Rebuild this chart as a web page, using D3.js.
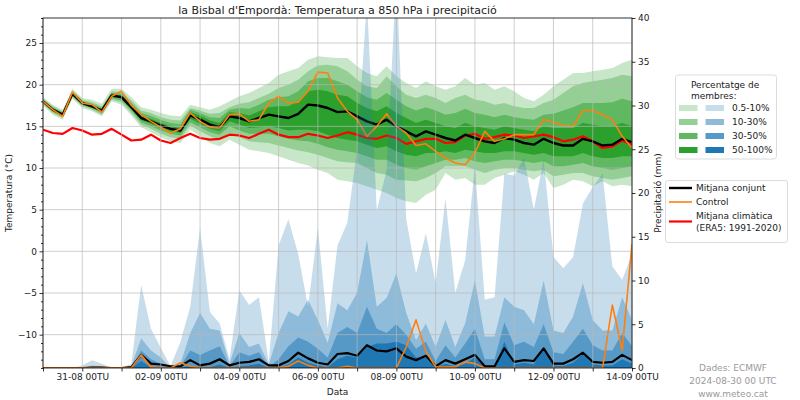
<!DOCTYPE html>
<html><head><meta charset="utf-8">
<script src="https://cdn.jsdelivr.net/npm/d3@7"></script>
<style>
body{margin:0;background:#fff;}
svg{font-family:"DejaVu Sans",sans-serif;}
</style></head><body>
<svg id="c" width="800" height="400"></svg>
<script>
// ---------- DATA ----------
const hours = [0,6,12,18,24,30,36,42,48,54,60,66,72,78,84,90,96,102,108,114,120,126,132,138,144,150,156,162,168,174,180,186,192,198,204,210,216,222,228,234,240,246,252,258,264,270,276,282,288,294,300,306,312,318,324,330,336,342,348,354,360];
const dayTicks = [0,24,48,72,96,120,144,168,192,216,240,264,288,312,336,360];
const labelTicks = [24,72,120,168,216,264,312,360];
const labelTexts = ["31-08 00TU","02-09 00TU","04-09 00TU","06-09 00TU","08-09 00TU","10-09 00TU","12-09 00TU","14-09 00TU"];
const tempTicks = [-10,-5,0,5,10,15,20,25];
const precTicks = [0,5,10,15,20,25,30,35,40];

const tMean = [18.0,17.0,16.4,18.9,17.8,17.4,16.9,18.7,18.5,17.3,16.0,15.6,15.1,14.7,14.5,16.3,15.8,15.2,14.9,16.2,16.0,15.6,16.0,16.4,16.2,16.0,16.5,17.6,17.5,17.2,16.7,16.8,16.2,15.6,15.2,15.8,15.0,14.4,13.8,14.4,14.0,13.6,13.3,14.0,13.6,13.2,13.0,13.6,13.4,13.0,12.8,13.5,13.0,12.7,12.7,13.5,13.2,12.7,12.8,13.5,13.1];
const tCtrl = [18.0,17.0,16.2,19.1,17.8,17.6,16.7,18.6,19.2,17.5,16.4,15.6,14.9,14.2,14.7,16.6,15.6,14.9,14.8,16.4,16.5,15.6,15.8,17.8,18.6,17.8,17.9,19.2,21.5,21.4,18.4,16.8,15.8,13.8,15.0,16.5,15.0,14.2,12.7,12.9,12.0,11.2,10.6,10.4,11.8,14.4,13.2,13.5,14.0,14.0,14.0,15.8,15.5,15.1,15.0,16.9,16.9,16.4,15.8,13.8,12.4];
const tClim = [14.6,14.2,14.1,14.8,14.5,14.0,14.1,14.7,14.0,13.3,13.4,14.0,13.3,13.0,13.6,14.1,13.6,13.4,13.5,14.0,13.9,13.6,14.1,14.6,14.0,13.7,13.7,14.1,13.9,13.6,13.9,14.3,14.0,13.6,13.5,13.9,13.6,12.9,13.2,13.5,13.5,13.0,13.1,13.9,14.1,13.5,13.7,14.0,13.9,13.6,13.8,14.0,13.7,13.2,13.4,13.8,13.2,12.4,12.6,13.3,12.8];

// temperature bands (0.5-10%, 10-30%, 30-50%, 50-100%) upper / lower
const tU1 = [18.5,17.6,17.0,19.5,18.4,18.2,17.7,19.5,19.5,18.5,17.3,17.0,16.6,16.3,16.2,17.6,17.3,17.0,17.4,18.0,18.6,19.0,19.6,20.2,21.2,21.6,22.0,23.0,23.4,23.3,23.2,23.2,22.2,21.4,21.0,22.2,21.0,20.2,19.6,20.4,19.8,19.4,19.8,20.8,20.0,20.2,19.4,19.8,19.2,18.4,18.0,18.8,19.8,20.6,21.4,21.4,21.6,21.8,22.0,22.6,23.0];
const tU2 = [18.35,17.4,16.8,19.3,18.2,17.9,17.4,19.2,19.1,18.1,16.9,16.6,16.1,15.8,15.7,17.2,16.9,16.5,16.6,17.3,17.7,17.9,18.4,18.9,19.6,20.0,20.6,21.6,22.3,22.4,22.2,21.6,20.6,19.8,19.6,21.0,19.8,18.8,18.4,18.8,18.4,17.8,18.4,18.8,18.2,18.0,17.6,17.8,17.4,17.2,17.2,17.8,18.2,19.0,19.8,20.2,20.4,20.6,20.8,21.2,21.0];
const tU3 = [18.2,17.25,16.65,19.15,18.05,17.7,17.2,19.0,18.9,17.8,16.6,16.25,15.75,15.4,15.25,17.0,16.6,16.1,16.0,17.0,17.2,17.1,17.6,18.2,18.5,18.6,19.2,20.4,20.8,20.8,20.4,20.0,19.2,18.5,18.2,19.0,18.2,17.4,16.9,17.3,16.9,16.4,16.6,17.1,16.6,16.4,16.1,16.4,16.1,15.9,15.8,16.4,16.5,16.9,17.3,17.8,17.8,17.8,17.9,18.3,18.0];
const tU4 = [18.1,17.1,16.5,19.0,17.9,17.5,17.05,18.85,18.7,17.5,16.25,15.9,15.4,15.0,14.8,16.7,16.3,15.7,15.4,16.7,16.6,16.3,16.8,17.3,17.4,17.4,18.0,19.2,19.4,19.2,18.8,18.6,17.8,17.2,16.8,17.4,16.6,16.0,15.4,15.8,15.4,15.0,14.8,15.4,15.0,14.8,14.6,15.0,14.8,14.6,14.4,15.0,14.8,14.8,14.8,15.4,15.2,15.0,15.0,15.4,15.0];
const tL4 = [17.9,16.9,16.3,18.8,17.7,17.3,16.75,18.55,18.3,17.1,15.75,15.3,14.8,14.4,14.2,15.9,15.3,14.7,14.4,15.6,15.2,14.8,14.9,15.0,14.8,14.5,14.6,14.6,14.4,14.0,13.6,13.4,13.2,12.8,12.4,12.6,12.0,11.6,11.4,11.8,11.8,12.0,11.8,12.2,12.0,11.8,11.8,12.0,12.0,11.8,11.6,11.8,11.4,11.4,11.4,11.8,11.4,11.2,11.2,11.4,11.4];
const tL3 = [17.8,16.75,16.15,18.65,17.55,17.15,16.6,18.4,18.1,16.9,15.5,15.0,14.5,14.1,13.9,15.5,14.9,14.3,14.0,15.0,14.5,14.1,14.1,14.1,13.8,13.5,13.3,13.2,12.9,12.5,12.2,12.0,11.8,11.4,11.0,11.0,10.4,10.0,9.8,10.2,10.6,11.0,11.0,11.2,10.8,10.6,10.8,11.0,11.0,10.8,10.6,10.8,10.2,10.2,10.4,10.6,10.2,10.0,9.8,10.0,10.2];
const tL2 = [17.65,16.6,16.0,18.5,17.4,17.0,16.4,18.2,17.9,16.6,15.2,14.7,14.1,13.7,13.5,15.1,14.4,13.8,13.4,14.2,13.7,13.2,13.1,13.0,12.7,12.4,12.1,11.9,11.6,11.2,10.8,10.7,10.6,10.0,9.4,9.2,8.6,8.5,8.4,8.8,9.4,10.2,10.2,10.2,9.8,9.4,9.8,10.0,10.0,9.8,9.6,9.8,9.0,9.2,9.4,9.4,9.0,8.8,8.6,8.8,9.0];
const tL1 = [17.5,16.4,15.8,18.3,17.2,16.8,16.2,18.0,17.6,16.3,14.9,14.3,13.7,13.2,13.0,14.6,13.8,13.0,12.6,13.4,12.8,12.2,12.0,11.8,11.4,11.0,10.6,10.3,9.8,9.4,8.6,8.4,8.2,7.8,7.4,7.0,6.4,6.0,5.8,6.8,7.4,9.4,8.6,8.8,8.0,8.0,8.8,9.2,9.6,9.2,8.6,9.4,7.6,8.0,8.6,8.4,7.8,8.4,7.8,8.0,7.8];

// precipitation bands (upper limits, from 0)
const pB1 = [0,0,0,0,0.3,0.9,0.5,0,0,0.5,9.5,4.5,2.3,0.2,3.0,7.0,16.0,6.4,5.1,1.0,8.9,7.2,8.1,0.7,14.0,17.0,13.0,7.0,16.0,4.5,14.0,16.6,25.0,42.0,18.0,22.6,45.0,17.0,10.8,15.4,9.7,19.4,8.6,12.3,23.0,7.8,8.1,22.2,22.0,24.0,18.1,23.8,12.7,11.4,12.7,18.8,20.7,22.2,11.6,10.1,13.0];
const pB2 = [0,0,0,0,0,0.3,0.2,0,0,0.2,3.4,2.0,1.2,0,0.5,4.0,6.3,4.5,4.3,0.5,4.0,2.4,2.8,0.4,4.0,6.5,5.9,7.8,5.5,2.9,7.4,6.6,8.6,14.6,7.0,8.0,10.8,6.3,3.2,5.1,2.4,5.5,2.4,5.1,10.0,3.6,3.6,8.1,7.0,6.6,5.0,10.0,4.3,4.0,5.9,9.7,5.5,4.3,4.3,8.1,5.5];
const pB3 = [0,0,0,0,0,0.1,0,0,0,0,2.0,1.0,0.5,0,0.2,2.0,1.5,2.0,2.5,0.2,1.8,1.4,1.8,0.1,1.0,2.5,3.5,3.0,2.2,1.2,4.0,4.7,4.0,7.0,4.5,4.0,5.0,3.8,2.2,3.0,0.8,2.6,1.2,2.8,4.5,1.0,1.0,5.2,2.6,3.0,2.4,5.0,1.8,1.6,3.0,4.5,2.6,2.0,2.0,4.0,2.5];
const pB4 = [0,0,0,0,0,0,0,0,0,0,0.8,0.1,0,0,0,0.3,0,0.1,0.4,0,0.2,0.3,0.5,0,0,0.4,1.2,0.6,0.3,0.1,1.0,1.4,1.2,2.4,2.8,2.8,3.0,2.6,1.2,1.2,0.1,0.5,0.2,0.5,1.2,0.1,0.1,3.0,0.4,0.6,0.4,2.2,0.3,0.2,0.6,1.6,0.4,0.3,0.3,1.0,0.5];
const pMean = [0,0,0,0,0,0.05,0.05,0,0,0.1,1.5,0.5,0.4,0.2,0.2,0.9,0.3,0.5,1.0,0.3,0.6,0.7,1.0,0.3,0.3,0.8,1.75,1.1,0.6,0.4,1.6,1.7,1.4,2.6,2.0,1.9,2.25,1.3,0.9,1.4,0.2,0.9,0.5,1.0,1.5,0.2,0.2,2.25,0.7,0.9,0.8,2.25,0.5,0.5,1.0,1.75,0.7,0.6,0.7,1.5,0.9];
const pCtrl = [0,0,0,0,0,0,0,0,0,0,1.5,0.1,0,0,0.6,0.2,0,0,0,0,0,0,0,0,0,0.2,0.8,0.3,0,0,0,0.2,0,0,0,0,0,2.4,5.5,1.9,0.1,0.1,0.1,0.7,0.5,0,0,0,0,0,0,0,0,0,0,0,0,0,7.2,2.0,14.2];

const bandLabels = ["0.5-10%","10-30%","30-50%","50-100%"];

// ---------- STYLE ----------
const greens = ["#c8e6c8","#95cf95","#60b860","#2ca02c"];
const blue = "#1f77b4";
const blueOp = [0.25,0.333,0.5,1.0];
const blueSw = ["#c7ddec","#8fbbd9","#5799c7","#1f77b4"];

const svg = d3.select('#c');
const X0=43, X1=632, Y0=18, Y1=368;
const x = d3.scaleLinear().domain([0,360]).range([X0,X1]);
const yT = d3.scaleLinear().domain([-14,28]).range([Y1,Y0]);
const yP = d3.scaleLinear().domain([0,40]).range([Y1,Y0]);

svg.append('defs').append('clipPath').attr('id','clip')
  .append('rect').attr('x',X0).attr('y',Y0).attr('width',X1-X0).attr('height',Y1-Y0);

const plot = svg.append('g').attr('clip-path','url(#clip)');
const idx = hours.map((h,i)=>i);

// green bands
const bandsT = [[tL1,tU1],[tL2,tU2],[tL3,tU3],[tL4,tU4]];
bandsT.forEach((b,k)=>{
  const area = d3.area().x(i=>x(hours[i])).y0(i=>yT(b[0][i])).y1(i=>yT(b[1][i]));
  plot.append('path').attr('d',area(idx)).attr('fill',greens[k]).attr('stroke','none');
});

// grid
const grid = svg.append('g');
dayTicks.forEach(h=>grid.append('line').attr('x1',x(h)).attr('x2',x(h)).attr('y1',Y0).attr('y2',Y1)
  .attr('stroke','#b8b8b8').attr('stroke-width',0.9).attr('stroke-opacity',0.75));
tempTicks.forEach(t=>grid.append('line').attr('x1',X0).attr('x2',X1).attr('y1',yT(t)).attr('y2',yT(t))
  .attr('stroke','#b8b8b8').attr('stroke-width',0.9).attr('stroke-opacity',0.75));

// temperature lines
const lineT = arr => d3.line().x(i=>x(hours[i])).y(i=>yT(arr[i]))(idx);
plot.append('path').attr('d',lineT(tClim)).attr('fill','none').attr('stroke','#ff0000').attr('stroke-width',2.2).attr('stroke-linejoin','round');
plot.append('path').attr('d',lineT(tMean)).attr('fill','none').attr('stroke','#000').attr('stroke-width',2.4).attr('stroke-linejoin','round');
plot.append('path').attr('d',lineT(tCtrl)).attr('fill','none').attr('stroke','#ff7f0e').attr('stroke-width',1.6).attr('stroke-linejoin','round');

// precipitation bands
[pB1,pB2,pB3,pB4].forEach((b,k)=>{
  const area = d3.area().x(i=>x(hours[i])).y0(yP(0)).y1(i=>yP(b[i]));
  plot.append('path').attr('d',area(idx)).attr('fill',blue).attr('fill-opacity',blueOp[k]).attr('stroke','none');
});
const lineP = arr => d3.line().x(i=>x(hours[i])).y(i=>yP(arr[i]))(idx);
plot.append('path').attr('d',lineP(pMean)).attr('fill','none').attr('stroke','#000').attr('stroke-width',2.2).attr('stroke-linejoin','round');
plot.append('path').attr('d',lineP(pCtrl)).attr('fill','none').attr('stroke','#ff7f0e').attr('stroke-width',1.6).attr('stroke-linejoin','round');

// frame
svg.append('rect').attr('x',X0).attr('y',Y0).attr('width',X1-X0).attr('height',Y1-Y0)
  .attr('fill','none').attr('stroke','#000').attr('stroke-width',0.8);

const fmt = d => d<0 ? '\u2212'+Math.abs(d) : String(d);
// left axis
svg.append('g').attr('transform',`translate(${X0},0)`)
  .call(d3.axisLeft(yT).tickValues(tempTicks).tickFormat(fmt).tickSize(3.5).tickPadding(2.5).tickSizeOuter(0));
const minorT = d3.range(-14,29,1).filter(v=>v%5!==0);
svg.append('g').attr('transform',`translate(${X0},0)`)
  .call(d3.axisLeft(yT).tickValues(minorT).tickFormat('').tickSize(2).tickSizeOuter(0));
// right axis
svg.append('g').attr('transform',`translate(${X1},0)`)
  .call(d3.axisRight(yP).tickValues(precTicks).tickSize(3.5).tickPadding(2.5).tickSizeOuter(0));
// bottom axis
svg.append('g').attr('transform',`translate(0,${Y1})`)
  .call(d3.axisBottom(x).tickValues(dayTicks).tickFormat('').tickSize(3.5).tickSizeOuter(0));
svg.append('g').attr('transform',`translate(0,${Y1})`)
  .call(d3.axisBottom(x).tickValues(labelTicks).tickFormat((d,i)=>labelTexts[i]).tickSize(0).tickPadding(6).tickSizeOuter(0));
svg.selectAll('.domain').remove();
svg.selectAll('.tick text').attr('font-size',9).attr('fill','#222').attr('font-family','DejaVu Sans');
svg.selectAll('.tick line').attr('stroke','#000').attr('stroke-width',0.8);

// labels
svg.append('text').attr('x',(X0+X1)/2).attr('y',14).attr('text-anchor','middle')
  .attr('font-size',11).attr('fill','#222').text("la Bisbal d'Empordà: Temperatura a 850 hPa i precipitació");
svg.append('text').attr('transform',`translate(12,${(Y0+Y1)/2}) rotate(-90)`).attr('text-anchor','middle')
  .attr('font-size',9).attr('fill','#222').text('Temperatura (°C)');
svg.append('text').attr('transform',`translate(661,${(Y0+Y1)/2}) rotate(-90)`).attr('text-anchor','middle')
  .attr('font-size',9).attr('fill','#222').text('Precipitació (mm)');
svg.append('text').attr('x',(X0+X1)/2).attr('y',395).attr('text-anchor','middle')
  .attr('font-size',9).attr('fill','#222').text('Data');

// footer
const foot = ["Dades: ECMWF","2024-08-30 00 UTC","www.meteo.cat"];
foot.forEach((t,i)=>svg.append('text').attr('x',733).attr('y',371+i*13).attr('text-anchor','middle')
  .attr('font-size',9).attr('fill','#9a9a9a').text(t));

// legend 1
const lg1 = svg.append('g');
lg1.append('rect').attr('x',675.5).attr('y',75).attr('width',101).attr('height',84).attr('rx',2.5)
  .attr('fill','#fff').attr('fill-opacity',0.85).attr('stroke','#d3d3d3').attr('stroke-width',0.8);
lg1.append('text').attr('x',691).attr('y',88).attr('font-size',9).attr('fill','#222').text('Percentatge de');
lg1.append('text').attr('x',691).attr('y',99).attr('font-size',9).attr('fill','#222').text('membres:');
bandLabels.forEach((t,k)=>{
  const yy = 108 + k*14;
  lg1.append('rect').attr('x',679).attr('y',yy-3).attr('width',18.5).attr('height',6).attr('fill',greens[k]);
  lg1.append('rect').attr('x',705.5).attr('y',yy-3).attr('width',18.5).attr('height',6).attr('fill',blueSw[k]);
  lg1.append('text').attr('x',732).attr('y',yy+3.3).attr('font-size',9).attr('fill','#222').text(t);
});

// legend 2
const lg2 = svg.append('g');
lg2.append('rect').attr('x',665.5).attr('y',180.5).attr('width',122).attr('height',62).attr('rx',2.5)
  .attr('fill','#fff').attr('fill-opacity',0.85).attr('stroke','#d3d3d3').attr('stroke-width',0.8);
const lg2Items = [["#000",2.4,188,["Mitjana conjunt"]],["#ff7f0e",1.6,202,["Control"]],["#ff0000",2.2,221.5,["Mitjana climàtica","(ERA5: 1991-2020)"]]];
lg2Items.forEach(it=>{
  lg2.append('line').attr('x1',669).attr('x2',692).attr('y1',it[2]).attr('y2',it[2]).attr('stroke',it[0]).attr('stroke-width',it[1]);
  if(it[3].length===1){
    lg2.append('text').attr('x',696).attr('y',it[2]+3.3).attr('font-size',9).attr('fill','#222').text(it[3][0]);
  } else {
    lg2.append('text').attr('x',696).attr('y',it[2]-2.5).attr('font-size',9).attr('fill','#222').text(it[3][0]);
    lg2.append('text').attr('x',696).attr('y',it[2]+9).attr('font-size',9).attr('fill','#222').text(it[3][1]);
  }
});
</script>
</body></html>
